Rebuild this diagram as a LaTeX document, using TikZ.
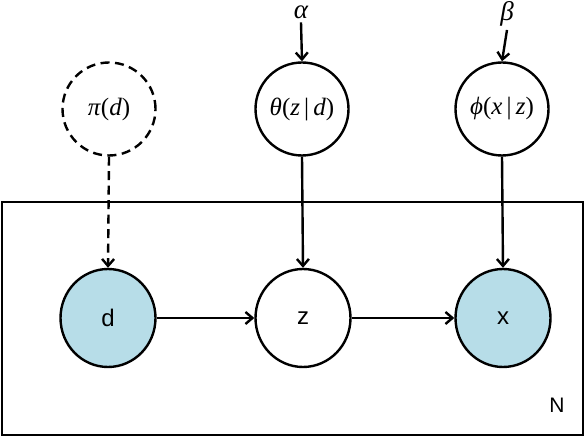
\documentclass[tikz,border=0pt]{standalone}
\usepackage{fontspec}
\setmainfont{Liberation Sans}
\newfontfamily\tms{Liberation Serif}
\usetikzlibrary{arrows.meta,shapes.geometric}
\definecolor{obsblue}{RGB}{183,221,232}
\begin{document}
\begin{tikzpicture}[x=1pt,y=-1pt,line width=2.4pt,
  var/.style={shape=ellipse,draw=black,minimum width=95,minimum height=98,inner sep=0pt,font=\fontsize{24}{24}\selectfont},
  varO/.style={var,fill=obsblue},
  par/.style={shape=ellipse,draw=black,minimum width=93,minimum height=93,inner sep=0pt,font=\tms\fontsize{25}{25}\selectfont},
  hyp/.style={anchor=base,inner sep=2pt,font=\tms\itshape\fontsize{27}{27}\selectfont},
  edge/.style={-{Straight Barb[length=7pt,width=12pt]}}]
\useasboundingbox (0,0) rectangle (586,438);
\def\ytop{109};
\def\ybot{318};

\draw (2,202) rectangle (583,435);
\node[font=\fontsize{21}{21}\selectfont] (N) at (557,405) {N};

\node[par,dash pattern=on 9pt off 5.5pt] (pi) at (109,\ytop) {\textit{π}(\textit{d})};
\node[par] (theta) at (302,\ytop) {\textit{θ}(\textit{z}\,|\,\textit{d})};
\node[par] (phi) at (502,\ytop) {\textit{ϕ}(\textit{x}\,|\,\textit{z})};

\node[hyp] (alpha) at (301,19) {α};
\node[hyp] (beta) at (507,21) {β};

\node[varO] (d) at (108,\ybot) {d};
\node[var] (z) at (303,\ybot) {z};
\node[varO] (x) at (503,\ybot) {x};

\draw[edge] (alpha.south) -- (theta.north);
\draw[edge] (beta.south) -- (phi.north);
\draw[edge,dash pattern=on 9pt off 5.5pt] (pi.south) -- (d.north);
\draw[edge] (theta.south) -- (z.north);
\draw[edge] (phi.south) -- (x.north);
\draw[edge] (d.east) -- (z.west);
\draw[edge] (z.east) -- (x.west);
\end{tikzpicture}
\end{document}
